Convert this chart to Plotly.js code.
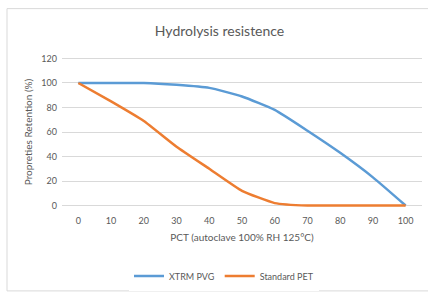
<!DOCTYPE html>
<html><head><meta charset="utf-8">
<script src="https://cdn.plot.ly/plotly-3.0.1.min.js"></script>
<style>html,body{margin:0;padding:0;background:#fff;}#c{width:428px;height:297px;}</style>
</head><body><div id="c"></div>
<script>
const categories = ['0','10','20','30','40','50','60','70','80','90','100'];
const xtrmPVG = [100,100,100,98.5,96,89,78,61,43,23,0];
const standardPET = [100,85,69,48,30,12,2,0,0,0,0];
const yTicks = [0,20,40,60,80,100,120];

const f = 'Lato, "Open Sans", sans-serif';
const grey = '#595959';
const data = [
  {x: categories, y: xtrmPVG, type:'scatter', mode:'lines', name:'XTRM PVG',
   line:{color:'#5B9BD5', width:2.5, shape:'spline', smoothing:0.5}},
  {x: categories, y: standardPET, type:'scatter', mode:'lines', name:'Standard PET',
   line:{color:'#ED7D31', width:2.5, shape:'spline', smoothing:0.4}}
];
const pTop = 56, pBot = 210, pH = pBot - pTop, pL = 62, pW = 360;
const layout = {
  width:428, height:297,
  margin:{l:pL, r:428-pL-pW, t:pTop, b:297-pBot},
  paper_bgcolor:'#fff', plot_bgcolor:'#fff',
  font:{family:f, color:grey, size:9},
  title:{text:'Hydrolysis resistence', font:{family:f, size:14, color:grey}, x:0.513, xanchor:'center', y:0.895, yanchor:'middle'},
  xaxis:{type:'category', range:[-0.5,10.5], tickvals:categories, ticktext:categories, showgrid:false, zeroline:false, showline:false,
    ticks:'', ticklabelstandoff:6, tickfont:{size:9, color:grey},
    title:{text:'PCT (autoclave 100% RH 125°C)', font:{size:10, color:grey}, standoff:8}},
  yaxis:{range:[-2,122], tickvals:yTicks, showgrid:true, gridcolor:'#D9D9D9', gridwidth:1, zeroline:false, showline:false,
    ticks:'', tickfont:{size:9, color:grey}, ticklabelstandoff:4,
    title:{text:'Propreties Retention (%)', font:{size:10, color:grey}, standoff:6}},
  showlegend:true,
  legend:{orientation:'h', x:(224-pL)/pW, xanchor:'center', y:(pBot-279)/pH, yanchor:'middle', font:{size:9, color:grey}, itemwidth:30, tracegroupgap:0},
  shapes:[{type:'rect', xref:'paper', yref:'paper', x0:(7-pL)/pW, x1:(432-pL)/pW, y0:(pBot-294)/pH, y1:(pBot-8)/pH,
    line:{color:'#D9D9D9', width:1}, layer:'below'}]
};
Plotly.newPlot('c', data, layout, {staticPlot:true, displayModeBar:false});
</script></body></html>
